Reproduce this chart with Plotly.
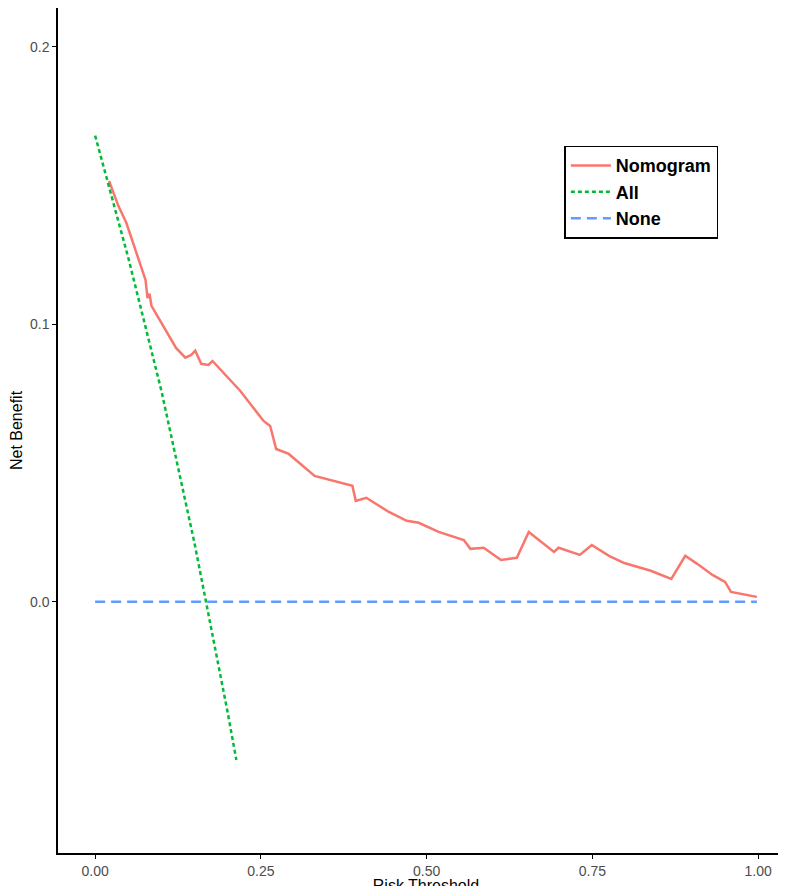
import plotly.graph_objects as go

# nomogram decision curve
nomo_t = [0.021, 0.035, 0.047, 0.076, 0.079, 0.082, 0.085, 0.100, 0.122, 0.136, 0.145, 0.151,
          0.160, 0.171, 0.177, 0.219, 0.254, 0.264, 0.267, 0.273, 0.292, 0.331, 0.388, 0.393,
          0.409, 0.443, 0.470, 0.488, 0.518, 0.556, 0.566, 0.586, 0.612, 0.636, 0.654, 0.692,
          0.699, 0.731, 0.749, 0.775, 0.798, 0.838, 0.869, 0.890, 0.908, 0.931, 0.950, 0.959, 0.998]
nomo_nb = [0.1517, 0.1427, 0.1366, 0.116, 0.1095, 0.111, 0.1067, 0.1005, 0.0915, 0.088, 0.089, 0.0905,
           0.0858, 0.0854, 0.0868, 0.076, 0.0652, 0.0634, 0.0609, 0.0551, 0.0533, 0.0454, 0.0418, 0.0364,
           0.0375, 0.0324, 0.0292, 0.0285, 0.0252, 0.0223, 0.0191, 0.0195, 0.0151, 0.0159, 0.0252, 0.018,
           0.0195, 0.0169, 0.0205, 0.0166, 0.014, 0.0112, 0.0083, 0.0166, 0.0137, 0.0097, 0.0072, 0.0036, 0.0018]

all_t = [0.0, 0.05, 0.10, 0.15, 0.20, 0.213]
all_nb = [0.168, 0.124, 0.076, 0.021, -0.040, -0.057]

none_t = [0.0, 0.998]
none_nb = [0.0, 0.0]

fig = go.Figure()
fig.add_trace(go.Scatter(x=nomo_t, y=nomo_nb, mode="lines", name="Nomogram",
                         line=dict(color="#F8766D", width=2.5)))
fig.add_trace(go.Scatter(x=all_t, y=all_nb, mode="lines", name="All",
                         line=dict(color="#00BA38", width=2.5, dash="4px,3px")))
fig.add_trace(go.Scatter(x=none_t, y=none_nb, mode="lines", name="None",
                         line=dict(color="#619CFF", width=2.5, dash="10px,6px")))

axis_common = dict(showgrid=False, zeroline=False, showline=True, linecolor="black", linewidth=1.5,
                   ticks="outside", ticklen=4, tickcolor="black", automargin=False,
                   tickfont=dict(size=14, color="#4d4d4d"), title_font=dict(size=16, color="black"))
fig.update_layout(
    width=786, height=886,
    margin=dict(l=50, r=0, t=0, b=41),
    plot_bgcolor="white", paper_bgcolor="white",
    font=dict(family="Liberation Sans, Arial"),
    xaxis=dict(range=[-0.056, 1.054], tickvals=[0, 0.25, 0.5, 0.75, 1.0],
               ticktext=["0.00", "0.25", "0.50", "0.75", "1.00"], title=dict(text="Risk Threshold", standoff=2), **axis_common),
    yaxis=dict(range=[-0.0905, 0.214], tickvals=[0, 0.1, 0.2],
               ticktext=["0.0", "0.1", "0.2"], title=dict(text="Net Benefit", standoff=4), **axis_common),
    legend=dict(x=0.688, y=0.837, xanchor="left", yanchor="top",
                bordercolor="black", borderwidth=1.5, bgcolor="white",
                font=dict(size=18, color="black", family="Liberation Sans, Arial Black"),
                itemwidth=40, tracegroupgap=0),
)
for tr in fig.data:
    tr.name = "<b>" + tr.name + "</b>"

fig.write_html("out.html")
